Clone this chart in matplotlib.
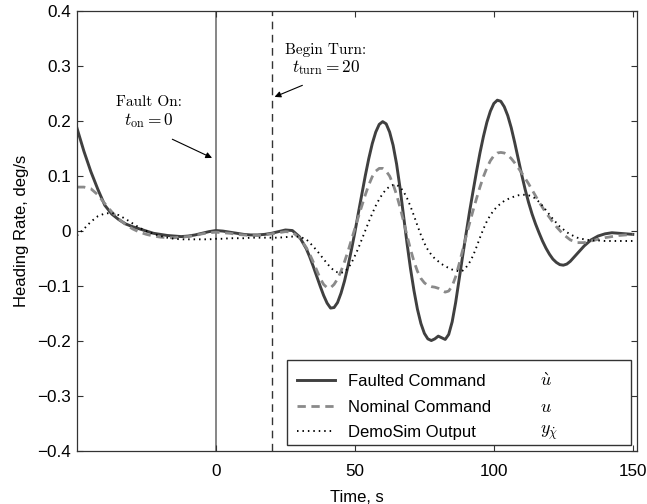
import numpy as np
import matplotlib
matplotlib.use('Agg')
import matplotlib.pyplot as plt
from matplotlib.patches import Rectangle

plt.rcParams['font.family'] = ['Liberation Sans', 'DejaVu Sans']
plt.rcParams['mathtext.fontset'] = 'cm'

# sample times, s (finer steps through the turn manoeuvre)
time_s = np.concatenate([
    np.arange(-50, 32.5, 2.5),
    np.arange(32.5, 127.5, 1.25),
    np.arange(127.5, 152.5, 2.5),
])

# heading rate, deg/s
faulted_cmd = [
    # -50 .. 30
    0.187, 0.145, 0.108, 0.076, 0.047, 0.031, 0.021, 0.013, 0.008, 0.004,
    0.000, -0.004, -0.006, -0.008, -0.009, -0.010, -0.009, -0.007, -0.004, -0.001,
    0.001, 0.000, -0.002, -0.004, -0.006, -0.007, -0.007, -0.006, -0.004, -0.001,
    0.002, 0.001, -0.010,
    # 32.5 .. 126.25
    -0.032, -0.047, -0.064, -0.082, -0.100, -0.117, -0.131, -0.140,
    -0.139, -0.130, -0.113, -0.091, -0.064, -0.034, -0.002, 0.033,
    0.067, 0.101, 0.132, 0.159, 0.180, 0.194, 0.199, 0.195,
    0.180, 0.156, 0.122, 0.078, 0.028, -0.022, -0.068, -0.108,
    -0.142, -0.168, -0.186, -0.196, -0.199, -0.196, -0.191, -0.194,
    -0.197, -0.188, -0.165, -0.130, -0.088, -0.046, -0.005, 0.035,
    0.072, 0.108, 0.142, 0.172, 0.198, 0.218, 0.232, 0.238,
    0.236, 0.226, 0.210, 0.188, 0.161, 0.132, 0.103, 0.076,
    0.052, 0.031, 0.013, -0.003, -0.018, -0.031, -0.042, -0.051,
    -0.057, -0.061, -0.062, -0.060,
    # 127.5 .. 150
    -0.055, -0.041, -0.027, -0.016, -0.009, -0.005, -0.003, -0.004, -0.005, -0.006,
]
nominal_cmd = [
    0.080, 0.080, 0.077, 0.066, 0.050, 0.035, 0.022, 0.012, 0.004, -0.002,
    -0.006, -0.009, -0.011, -0.012, -0.012, -0.011, -0.010, -0.008, -0.005, -0.003,
    -0.002, -0.003, -0.004, -0.006, -0.007, -0.008, -0.008, -0.007, -0.005, -0.003,
    -0.001, -0.002, -0.012,
    -0.030, -0.042, -0.056, -0.071, -0.086, -0.097, -0.103, -0.103,
    -0.097, -0.087, -0.073, -0.056, -0.037, -0.016, 0.005, 0.026,
    0.046, 0.066, 0.084, 0.099, 0.109, 0.114, 0.114, 0.109,
    0.100, 0.085, 0.066, 0.043, 0.018, -0.008, -0.033, -0.055,
    -0.073, -0.086, -0.094, -0.099, -0.101, -0.102, -0.104, -0.108,
    -0.111, -0.109, -0.100, -0.083, -0.060, -0.035, -0.010, 0.014,
    0.037, 0.059, 0.080, 0.099, 0.115, 0.128, 0.137, 0.142,
    0.143, 0.142, 0.138, 0.132, 0.124, 0.115, 0.106, 0.096,
    0.086, 0.075, 0.064, 0.053, 0.043, 0.033, 0.025, 0.016,
    0.008, 0.001, -0.006, -0.011,
    -0.016, -0.021, -0.021, -0.018, -0.015, -0.012, -0.010, -0.008, -0.007, -0.006,
]
demosim_out = [
    -0.008, 0.004, 0.017, 0.027, 0.032, 0.033, 0.029, 0.022, 0.014, 0.006,
    0.000, -0.005, -0.009, -0.012, -0.014, -0.015, -0.015, -0.015, -0.015, -0.015,
    -0.014, -0.014, -0.013, -0.013, -0.013, -0.012, -0.012, -0.012, -0.012, -0.012,
    -0.011, -0.010, -0.010,
    -0.015, -0.021, -0.028, -0.035, -0.043, -0.051, -0.059, -0.066,
    -0.072, -0.075, -0.076, -0.074, -0.068, -0.058, -0.045, -0.031,
    -0.015, 0.001, 0.017, 0.032, 0.046, 0.058, 0.068, 0.076,
    0.081, 0.084, 0.084, 0.080, 0.072, 0.060, 0.045, 0.028,
    0.010, -0.007, -0.022, -0.034, -0.043, -0.050, -0.055, -0.060,
    -0.064, -0.067, -0.070, -0.072, -0.073, -0.072, -0.066, -0.057,
    -0.045, -0.029, -0.012, 0.004, 0.018, 0.029, 0.038, 0.045,
    0.050, 0.055, 0.058, 0.061, 0.063, 0.065, 0.066, 0.066,
    0.065, 0.063, 0.059, 0.053, 0.046, 0.038, 0.030, 0.022,
    0.015, 0.008, 0.003, -0.002,
    -0.006, -0.012, -0.015, -0.017, -0.017, -0.018, -0.018, -0.018, -0.018, -0.018,
]

series_labels = ['Faulted Command', 'Nominal Command', 'DemoSim Output']
series_symbols = [r'$\grave{u}$', r'$u$', r'$y_{\dot{\chi}}$']

t_fault_on = 0
t_turn = 20

x_ticks = [0, 50, 100, 150]
y_ticks = [-0.4, -0.3, -0.2, -0.1, 0, 0.1, 0.2, 0.3, 0.4]
y_tick_labels = ['\u22120.4', '\u22120.3', '\u22120.2', '\u22120.1', '0',
                 '0.1', '0.2', '0.3', '0.4']

fig = plt.figure(figsize=(6.47, 5.04), dpi=100)
ax = fig.add_axes([0.119, 0.105, 0.8655, 0.873])

# event markers
ax.axvline(t_fault_on, color='#666666', lw=1.1, zorder=1)
ax.axvline(t_turn, color='#333333', lw=1.0, dashes=(5.5, 4), zorder=1)

ax.plot(time_s, faulted_cmd, color='#404040', lw=2.1, label=series_labels[0],
        solid_joinstyle='round')
ax.plot(time_s, nominal_cmd, color='#8a8a8a', lw=2.0, dashes=(3, 2),
        label=series_labels[1])
ax.plot(time_s, demosim_out, color='black', lw=1.35, dashes=(0.8, 2.1),
        label=series_labels[2])

ax.set_xlim(-50, 151.5)
ax.set_ylim(-0.4, 0.4)
ax.set_xticks(x_ticks)
ax.set_yticks(y_ticks)
ax.set_yticklabels(y_tick_labels)
ax.tick_params(direction='in', top=True, right=True, length=4, width=0.8,
               labelsize=12.3, color='#333333')
ax.tick_params(axis='x', pad=9)
ax.tick_params(axis='y', pad=4.5)
for sp in ax.spines.values():
    sp.set_color('#333333')
    sp.set_linewidth(0.9)

ax.set_xlabel('Time, s', fontsize=12, labelpad=8)
ax.set_ylabel('Heading Rate, deg/s', fontsize=12, labelpad=6)

# annotations
arrow_kw = dict(arrowstyle='-|>', color='black', lw=0.8, mutation_scale=9,
                shrinkA=0, shrinkB=0)
ax.text(-24, 0.235, 'Fault On:', family='cmr10', ha='center', va='center',
        fontsize=11)
ax.text(-24, 0.201, r'$t_{\mathrm{on}} = \mathbf{0}$', ha='center', va='center',
        fontsize=12.5)
ax.annotate('', xy=(-1.4, 0.133), xytext=(-15.7, 0.167), arrowprops=arrow_kw)

ax.text(39.6, 0.330, 'Begin Turn:', family='cmr10', ha='center', va='center',
        fontsize=11)
ax.text(39.6, 0.297, r'$t_{\mathrm{turn}} = \mathbf{20}$', ha='center', va='center',
        fontsize=12.5)
ax.annotate('', xy=(21.1, 0.244), xytext=(31.1, 0.265), arrowprops=arrow_kw)

# legend box drawn separately so the entries can sit a little lower in it
ax.add_patch(Rectangle((0.375, 0.0136), 0.614, 0.193, transform=ax.transAxes,
                       facecolor='white', edgecolor='#333333', lw=1.0,
                       zorder=4.5))
leg = ax.legend(loc='lower left', bbox_to_anchor=(0.375, 0.003, 0.614, 0.2),
                mode='expand', borderaxespad=0, frameon=False, fontsize=12,
                handlelength=2.3, handletextpad=0.8, labelspacing=0.63,
                borderpad=0.58)

# symbols column inside the legend, aligned with each entry
fig.canvas.draw()
inv = ax.transAxes.inverted()
for txt, sym in zip(leg.get_texts(), series_symbols):
    bb = txt.get_window_extent()
    yc = inv.transform((0, (bb.y0 + bb.y1) / 2))[1]
    ax.text(0.827, yc, sym, transform=ax.transAxes, ha='left', va='center',
            fontsize=13, zorder=10)

fig.savefig('out.png', dpi=100)
